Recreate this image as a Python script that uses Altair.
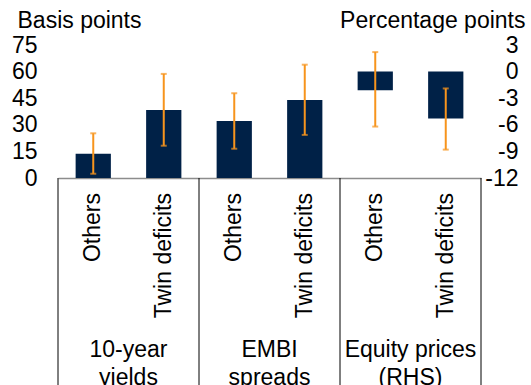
import altair as alt
import pandas as pd

# ---- data ----
groups = ["10-year\nyields", "EMBI\nspreads", "Equity prices\n(RHS)"]
categories = ["Others", "Twin deficits", "Others", "Twin deficits", "Others", "Twin deficits"]
# left axis (basis points): 10-year yields and EMBI spreads
bp_values = [13.7, 38.4, 32.1, 44.0]
bp_low = [2.4, 18.2, 16.5, 24.3]
bp_high = [25.2, 58.7, 47.8, 63.9]
# right axis (percentage points): equity prices
pp_values = [-2.1, -5.3]
pp_low = [-6.2, -8.8]
pp_high = [2.2, -1.9]
left_ticks = [0, 15, 30, 45, 60, 75]
right_ticks = [-12, -9, -6, -3, 0, 3]

NAVY = "#002147"
ORANGE = "#F7941D"
FONT = "Liberation Sans"
FS = 23

pos = [i + 0.5 for i in range(len(categories))]
bp_df = pd.DataFrame({"pos": pos[:4], "cat": categories[:4], "v": bp_values,
                      "lo": bp_low, "hi": bp_high,
                      "x0": [p - 0.25 for p in pos[:4]], "x1": [p + 0.25 for p in pos[:4]]})
pp_df = pd.DataFrame({"pos": pos[4:], "cat": categories[4:], "v": pp_values,
                      "lo": pp_low, "hi": pp_high,
                      "x0": [p - 0.25 for p in pos[4:]], "x1": [p + 0.25 for p in pos[4:]]})
cat_df = pd.DataFrame({"pos": pos, "cat": categories})
grp_df = pd.DataFrame({"pos": [1, 3, 5], "grp": groups})
div_df = pd.DataFrame({"pos": [0, 2, 4, 6]})

xscale = alt.Scale(domain=[0, 6], nice=False, zero=False)
xax = alt.Axis(domain=True, domainColor="#8c8c8c", domainWidth=1.5, ticks=False,
               labels=False, grid=False, title=None)

yl = alt.Scale(domain=[0, 75], nice=False)
yr = alt.Scale(domain=[-12, 3], nice=False)

left_axis = alt.Axis(values=left_ticks, labelFontSize=FS, labelPadding=21, tickSize=0,
                     domain=False, grid=False, labelOverlap=False, labelColor="black",
                     labelExpr="toString(datum.value)", labelFlush=False,
                     title="Basis points", titleAngle=0, titleX=-41, titleY=-18,
                     titleAlign="left", titleBaseline="alphabetic", titleFontSize=FS,
                     titleFontWeight="normal", titleColor="black")
right_axis = alt.Axis(values=right_ticks, orient="right", labelFontSize=FS, labelPadding=37,
                      labelAlign="right", tickSize=0, domain=False, grid=False,
                      labelOverlap=False, labelColor="black",
                      labelExpr="toString(datum.value)", labelFlush=False,
                      title="Percentage points", titleAngle=0, titleX=44, titleY=-18,
                      titleAlign="right", titleBaseline="alphabetic", titleFontSize=FS,
                      titleFontWeight="normal", titleColor="black")


def layer_set(df, yscale, yaxis):
    bars = alt.Chart(df).mark_bar(color=NAVY).encode(
        x=alt.X("x0:Q", scale=xscale, axis=xax), x2="x1:Q",
        y=alt.Y("v:Q", scale=yscale, axis=yaxis), y2=alt.datum(0))
    err = alt.Chart(df).mark_rule(color=ORANGE, strokeWidth=2).encode(
        x=alt.X("pos:Q", scale=xscale, axis=xax),
        y=alt.Y("lo:Q", scale=yscale, axis=yaxis), y2="hi:Q")
    caplo = alt.Chart(df).mark_tick(color=ORANGE, orient="horizontal", size=6, thickness=2).encode(
        x=alt.X("pos:Q", scale=xscale, axis=xax), y=alt.Y("lo:Q", scale=yscale, axis=yaxis))
    caphi = alt.Chart(df).mark_tick(color=ORANGE, orient="horizontal", size=6, thickness=2).encode(
        x=alt.X("pos:Q", scale=xscale, axis=xax), y=alt.Y("hi:Q", scale=yscale, axis=yaxis))
    return [bars, err, caplo, caphi]


dividers = alt.Chart(div_df).mark_rule(color="black", strokeWidth=1).encode(
    x=alt.X("pos:Q", scale=xscale, axis=xax), y=alt.value(133), y2=alt.value(340))
cat_text = alt.Chart(cat_df).mark_text(angle=270, align="right", baseline="middle",
                                       fontSize=FS, font=FONT, color="black").encode(
    x=alt.X("pos:Q", scale=xscale, axis=xax), y=alt.value(148), text="cat:N")
grp_text = alt.Chart(grp_df).mark_text(align="center", baseline="alphabetic", lineBreak="\n",
                                       lineHeight=28, fontSize=FS, font=FONT, color="black").encode(
    x=alt.X("pos:Q", scale=xscale, axis=xax), y=alt.value(312), text="grp:N")

left = alt.layer(*layer_set(bp_df, yl, left_axis), dividers, cat_text, grp_text)
right = alt.layer(*layer_set(pp_df, yr, right_axis))

chart = alt.layer(left, right).resolve_scale(y="independent").properties(
    width=423, height=133,
    autosize=alt.AutoSizeParams(type="none"),
    padding={"left": 58, "top": 45, "right": 50, "bottom": 207},
).configure(font=FONT).configure_view(stroke=None)

chart.save("out.html", embed_options={"renderer": "svg", "actions": False})
